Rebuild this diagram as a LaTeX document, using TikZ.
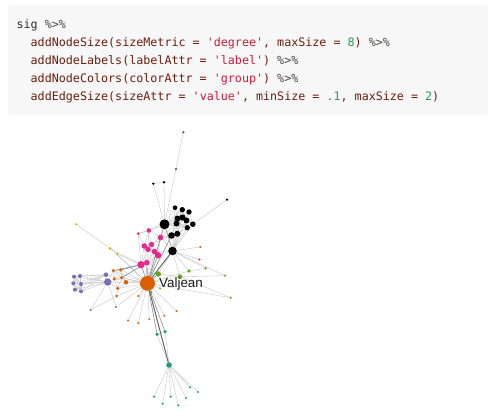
\documentclass[tikz,border=0pt]{standalone}
\usepackage{fontspec}
\setmonofont{DejaVu Sans Mono}
\newfontfamily\labfont{Liberation Sans}
\pgfdeclarelayer{bg}
\pgfsetlayers{bg,main}
\definecolor{codebg}{HTML}{F7F7F7}
\definecolor{csig}{HTML}{2E2E2E}
\definecolor{cpipe}{HTML}{4E4444}
\definecolor{cfun}{HTML}{6E1C0C}
\definecolor{cstr}{HTML}{D0193B}
\definecolor{cnum}{HTML}{2B9B5B}
\definecolor{dteal}{HTML}{1B9E77}
\definecolor{dorange}{HTML}{D95F02}
\definecolor{dpurple}{HTML}{7570B3}
\definecolor{dpink}{HTML}{E7298A}
\definecolor{dgreen}{HTML}{66A61E}
\definecolor{dyellow}{HTML}{E6AB02}
\definecolor{dgray}{HTML}{666666}
\newcommand\nd[5]{\node[gnode,fill=#4,minimum size=#5pt] (#1) at (#2,#3) {};}
\newcommand\fn[1]{\textcolor{cfun}{#1}}
\newcommand\st[1]{\textcolor{cstr}{#1}}
\newcommand\nm[1]{\textcolor{cnum}{#1}}
\newcommand\pp{\textcolor{cpipe}{\%>\%}}
\begin{document}
\begin{tikzpicture}[x=1pt,y=-1pt,
  gnode/.style={circle,inner sep=0pt,outer sep=0pt,draw=none},
  code/.style={anchor=base west,inner sep=0pt,font=\ttfamily\fontsize{11.7}{18}\selectfont},
  lab/.style={anchor=base west,inner sep=0pt,font=\labfont\fontsize{13.4}{16}\selectfont,text=black!90},
  el/.style={draw=black!25,line width=0.35pt},
  em/.style={draw=black!45,line width=0.6pt},
  eh/.style={draw=black!60,line width=1pt}]
\useasboundingbox (0,0) rectangle (490,411);
% code block
\fill[codebg,rounded corners=3pt] (8,5) rectangle (488,115);
\node[code] (l1) at (16.4,28.5) {\textcolor{csig}{sig} \pp};
\node[code] (l2) at (30.5,46.5) {\fn{addNodeSize(sizeMetric = }\st{'degree'}\fn{, maxSize = }\nm{8}\fn{)} \pp};
\node[code] (l3) at (30.5,64.5) {\fn{addNodeLabels(labelAttr = }\st{'label'}\fn{)} \pp};
\node[code] (l4) at (30.5,82.5) {\fn{addNodeColors(colorAttr = }\st{'group'}\fn{)} \pp};
\node[code] (l5) at (30.5,100.5) {\fn{addEdgeSize(sizeAttr = }\st{'value'}\fn{, minSize = }\nm{.1}\fn{, maxSize = }\nm{2}\fn{)}};
% nodes: gray
\nd{ga}{183.3}{132.3}{dgray}{2.6}
\nd{gb}{176}{169}{dgray}{2.6}
% black
\nd{k0}{164.5}{224.3}{black}{10}
\nd{k1}{175}{207.7}{black}{4.6}
\nd{k2}{182.3}{209.7}{black}{5.4}
\nd{k3}{189}{212}{black}{5.4}
\nd{k4}{177.5}{218.5}{black}{6}
\nd{k5}{182.5}{217.5}{black}{6.2}
\nd{k6}{186.5}{220.5}{black}{6}
\nd{k7}{192.8}{224.2}{black}{5.6}
\nd{k8}{176.5}{223.5}{black}{6}
\nd{k9}{187.3}{227.7}{black}{5.4}
\nd{k10}{171.5}{235.5}{black}{6.6}
\nd{k11}{177.3}{233.8}{black}{6}
\nd{k12}{172.5}{251}{black}{8.6}
\nd{k13}{153.3}{183.7}{black}{2.6}
\nd{k14}{164}{182.3}{black}{2.6}
\nd{k15}{227}{199.7}{black}{2.4}
% pink
\nd{p0}{138.3}{233.7}{dpink}{3}
\nd{p1}{148.8}{230.5}{dpink}{4.6}
\nd{p2}{160.5}{237.5}{dpink}{5.6}
\nd{p3}{144.3}{246}{dpink}{5.6}
\nd{p4}{151.5}{244.5}{dpink}{5.4}
\nd{p5}{148}{249.3}{dpink}{5.6}
\nd{p6}{154.5}{251.5}{dpink}{5.6}
\nd{p7}{158}{255.3}{dpink}{6.6}
\nd{p8}{141}{264.7}{dpink}{7.4}
\nd{p9}{146.7}{262.7}{dpink}{5.6}
\nd{p10}{199.3}{259.5}{dpink}{2.4}
% orange
\nd{v}{147.5}{283.3}{dorange}{15}
\nd{o0}{113.3}{270.7}{dorange}{3.6}
\nd{o1}{120.7}{270}{dorange}{3.6}
\nd{o2}{114.3}{279}{dorange}{3.6}
\nd{o3}{121.7}{277.7}{dorange}{3.6}
\nd{o4}{126}{282.3}{dorange}{4.4}
\nd{o5}{117.7}{288.3}{dorange}{3.6}
\nd{o6}{116.7}{296}{dorange}{3}
\nd{o7}{138.3}{296}{dorange}{2.4}
\nd{o8}{128}{320.5}{dorange}{2.2}
\nd{o9}{138.3}{323}{dorange}{2.2}
\nd{o10}{149.3}{319.3}{dorange}{2.2}
\nd{o11}{164.3}{315.7}{dorange}{2.2}
\nd{o12}{176.5}{311}{dorange}{2.2}
\nd{oa}{200.3}{247}{dorange}{2.2}
% purple
\nd{u0}{74}{276.7}{dpurple}{4}
\nd{u1}{80}{276}{dpurple}{4}
\nd{u2}{73.3}{283.3}{dpurple}{4}
\nd{u3}{81}{284}{dpurple}{4}
\nd{u4}{75}{289.7}{dpurple}{4}
\nd{u5}{81}{291.3}{dpurple}{4}
\nd{u6}{106}{274.7}{dpurple}{4.6}
\nd{u7}{107.7}{282}{dpurple}{7.4}
\nd{u8}{90.7}{310}{dpurple}{2.4}
\nd{u9}{116}{307}{dpurple}{2.4}
% yellow
\nd{y0}{76.3}{224.3}{dyellow}{2.4}
\nd{y1}{110}{248.3}{dyellow}{3}
\nd{y2}{117.3}{254}{dyellow}{2.6}
% green
\nd{e0}{158.3}{274}{dgreen}{5.4}
\nd{e1}{180}{276.7}{dgreen}{4.6}
\nd{e2}{189}{271}{dgreen}{3.6}
\nd{e3}{205.7}{268.3}{dgreen}{2.6}
\nd{e4}{225}{275.7}{dgreen}{2.4}
\nd{e5}{160}{288.3}{dgreen}{2.4}
\nd{e6}{151}{292.3}{dgreen}{2.6}
\nd{e7}{230.7}{297.7}{dgreen}{2.4}
% teal
\nd{t0}{157}{334.3}{dteal}{3.6}
\nd{t1}{165}{331.7}{dteal}{3.6}
\nd{tb}{169}{365}{dteal}{5.6}
\nd{t2}{154}{396.7}{dteal}{2.4}
\nd{t3}{162.7}{403.7}{dteal}{2.4}
\nd{t4}{170.7}{396.7}{dteal}{2.4}
\nd{t5}{178.3}{405.3}{dteal}{2.4}
\nd{t6}{186}{398}{dteal}{2.4}
\nd{t7}{190}{387.3}{dteal}{2.4}
\nd{t8}{198}{392}{dteal}{2.4}
% label
\node[lab] (vl) at (159,287.3) {Valjean};
% edges
\begin{pgfonlayer}{bg}
\foreach \a/\b in {ga/gb,gb/k0,k13/k14,k13/k0,k14/k0,k15/k7,
  k0/k1,k0/k2,k0/k3,k0/k4,k0/k5,k0/k6,k0/k7,k0/k8,k0/k9,k1/k4,k1/k5,k2/k4,k2/k5,k2/k6,
  k3/k5,k3/k6,k3/k7,k4/k5,k5/k6,k6/k7,k4/k8,k5/k9,k6/k9,k7/k9,k8/k9,k8/k10,k8/k11,k9/k11,
  k4/k10,k5/k11,k10/k11,k4/k12,k5/k12,k6/k12,k7/k12,k9/k12,k1/k12,k2/k12,k3/k12,
  k0/p1,k0/p2,k0/p0,k10/p2,k10/p4,k11/p2,k8/p2,k12/p6,k12/p7,k12/p2,
  p0/p1,p0/p3,p1/p2,p1/p3,p1/p4,p2/p4,p2/p7,p3/p4,p3/p5,p4/p5,p4/p6,p5/p6,p6/p7,p5/p7,
  p3/p8,p5/p8,p8/p9,p6/p9,p7/p9,p0/p8,
  k12/oa,k12/p10,k12/e3,k12/e4,k12/e2,k12/e1,k12/e0,e1/e4,e2/e3,e1/e7,v/e7,v/e2,v/e1,
  v/e5,v/e6,e0/e1,v/p1,v/p3,v/p4,v/p5,v/p6,v/p2,
  y0/y1,y1/v,y2/v,y1/p8,y2/p8,
  u0/u1,u0/u2,u0/u3,u0/u4,u0/u5,u1/u2,u1/u3,u1/u4,u1/u5,u2/u3,u2/u4,u2/u5,u3/u4,u3/u5,u4/u5,
  u0/u6,u1/u6,u2/u6,u3/u6,u4/u6,u5/u6,u0/u7,u1/u7,u2/u7,u3/u7,u4/u7,u5/u7,u6/u7,
  u7/v,u6/v,u8/u7,u8/o6,u9/u7,u9/v,
  o0/o1,o0/o2,o0/o3,o1/o3,o2/o3,o2/o5,o3/o4,o3/o5,o4/o5,o1/o4,o0/u7,o2/u7,o5/u7,
  o0/v,o1/v,o2/v,o3/v,o4/v,o5/v,o6/v,o7/v,o8/v,o9/v,o10/v,o11/v,o12/v,o6/o5,
  t0/t1,t0/tb,t1/tb,tb/t2,tb/t3,tb/t4,tb/t5,tb/t6,tb/t7,tb/t8}
  \draw[el] (\a) -- (\b);
\foreach \a/\b in {v/p8,v/p9,v/p7,v/e0,v/t0,v/t1,p8/o1,p9/o3,v/k10,v/k0,k0/k12,p8/o0}
  \draw[em] (\a) -- (\b);
\foreach \a/\b in {v/k12,v/tb}
  \draw[eh] (\a) -- (\b);
\end{pgfonlayer}
\end{tikzpicture}
\end{document}
